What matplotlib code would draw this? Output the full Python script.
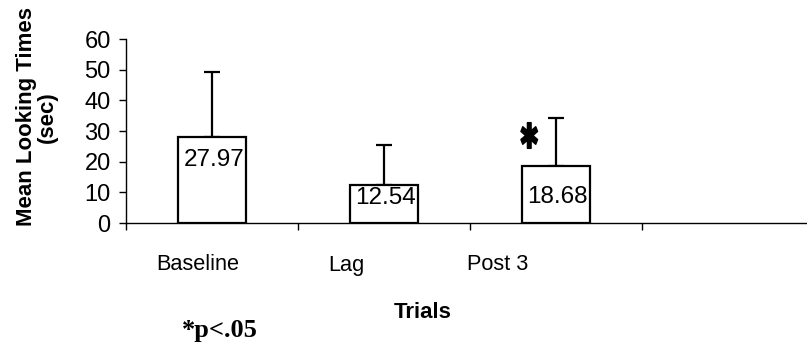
import matplotlib
matplotlib.use("Agg")
import matplotlib.pyplot as plt
import numpy as np
from matplotlib.transforms import blended_transform_factory
from matplotlib.textpath import TextPath
from matplotlib.font_manager import FontProperties
from matplotlib.path import Path

# Data
categories = ["Baseline", "Lag", "Post 3"]
means = [27.97, 12.54, 18.68]
errors = [21.3, 12.9, 15.7]
yticks = [0, 10, 20, 30, 40, 50, 60]
value_labels = ["27.97", "12.54", "18.68"]

# Layout constants
W, H = 807, 352
label_xoff = [-0.084, -0.218, -0.340]
value_label_y = [20.5, 8.3, 8.5]

plt.rcParams['font.family'] = ['Liberation Sans', 'DejaVu Sans']
fig = plt.figure(figsize=(W / 100, H / 100), dpi=100)
ax_left = 126 / W
ax_bottom = (H - 223) / H
ax_top = (H - 39) / H
ax = fig.add_axes([ax_left, ax_bottom, 1 - ax_left, ax_top - ax_bottom])

xs = [i + 0.5 for i in range(len(categories))]
ax.bar(xs, means, width=0.40, color="white", edgecolor="black", linewidth=1.6, zorder=2)
ax.errorbar(xs, means, yerr=[[0] * len(errors), errors], fmt="none", ecolor="black",
            elinewidth=1.6, capsize=6, capthick=1.6, zorder=1)

ax.set_xlim(0, (W - 126) / 172)
ax.set_ylim(0, 60)
ax.set_yticks(yticks)
ax.set_yticklabels([str(t) for t in yticks], fontsize=17)
ax.set_xticks([0, 1, 2, 3])
ax.set_xticklabels([])
ax.tick_params(axis="y", direction="out", length=5, width=1, pad=6)
ax.tick_params(axis="x", direction="out", length=5, width=1)
for s in ["top", "right"]:
    ax.spines[s].set_visible(False)
for s in ["left", "bottom"]:
    ax.spines[s].set_linewidth(1)

# Category labels
trans = blended_transform_factory(ax.transData, fig.transFigure)
for x, name, off in zip(xs, categories, label_xoff):
    ax.text(x + off, (H - 265) / H, name, transform=trans, ha="center", va="center",
            fontsize=15.7)

# Value labels
for x, lab, y in zip(xs, value_labels, value_label_y):
    ax.text(x + 0.01, y, lab, ha="center", va="center", fontsize=17.5, zorder=3)

# Significance asterisk (tall heavy asterisk as a marker)
tp = TextPath((0, 0), "\u2731", size=10, prop=FontProperties(family="DejaVu Sans"))
verts = tp.vertices.copy()
verts -= (verts.max(axis=0) + verts.min(axis=0)) / 2
verts[:, 1] *= 1.5
star = Path(verts, tp.codes)
ax.plot([2.337], [28.7], linestyle="none", marker=star, markersize=18.5,
        color="black", zorder=3)

# Axis titles
fig.text(423 / W, (H - 312) / H, "Trials", ha="center", va="center",
         fontsize=16, fontweight="bold")
fig.text(37 / W, (H - 117) / H, "Mean Looking Times\n(sec)", ha="center", va="center",
         rotation=90, fontsize=16, fontweight="bold", linespacing=1.0)
fig.text(220 / W, (H - 331) / H, "*p<.05", ha="center", va="center",
         fontsize=19, fontweight="bold", family=["Liberation Serif"])

fig.savefig("out.png", dpi=100)
